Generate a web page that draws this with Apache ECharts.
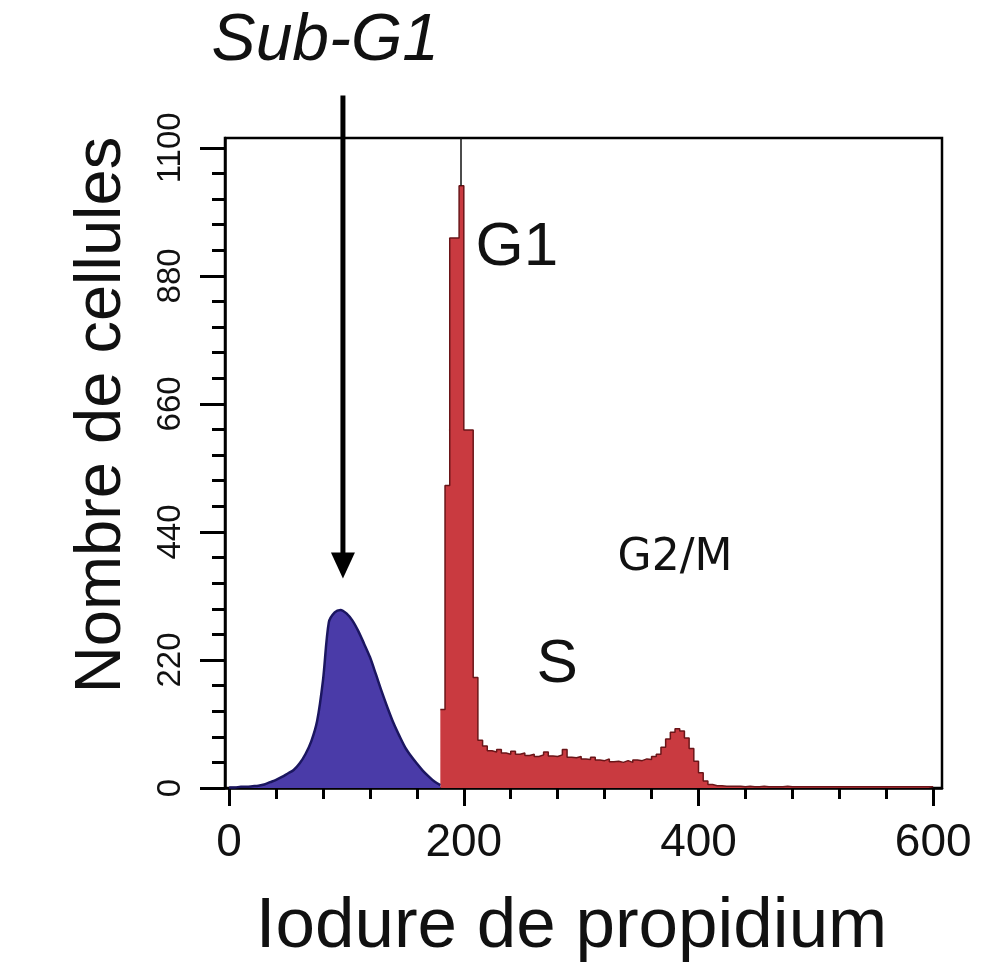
<!DOCTYPE html>
<html>
<head>
<meta charset="utf-8">
<script src="https://cdn.jsdelivr.net/npm/echarts@6/dist/echarts.min.js"></script>
<style>
  html, body { margin: 0; background: #fff; }
  #chart { width: 987px; height: 965px; }
</style>
</head>
<body>
<div id="chart"></div>
<script>
// Sub-G1 population (blue), one value every 5 units of PI
const subG1Start = 0;
const subG1Step = 5;
const subG1Counts = [1, 1, 2, 2, 3, 4, 6, 10, 14, 19, 25, 31, 42, 58, 80, 115, 185, 285, 302, 306,
  300, 288, 270, 248, 225, 196, 166, 138, 112, 90, 70, 55, 42, 30, 20, 11, 5];

// G1 / S / G2-M histogram (red), bins 4 units wide
const cycleStart = 180;
const cycleBin = 4;
const cycleCounts = [135, 520, 945, 945, 1035, 615, 615, 190, 82, 72, 64, 62, 66, 60, 58, 63, 58, 60,
  56, 58, 54, 57, 62, 55, 54, 57, 66, 53, 52, 54, 50, 49, 53, 48, 47, 50, 45, 46, 44, 47, 44, 48, 47,
  50, 49, 54, 58, 70, 84, 96, 102, 98, 86, 68, 46, 26, 12, 6,
  4, 4, 3, 3, 3, 3, 2, 3, 2, 2, 3, 2, 2, 2, 2, 3, 2, 2, 2, 2, 2, 2, 2, 2, 2, 2, 2, 2, 2, 2, 2, 2,
  2, 2, 2, 2, 2, 2, 2, 2, 2, 2, 2, 2, 2, 2, 2];

// thin spike above the G1 peak
const g1SpikeX = 197;
const g1SpikeFrom = 1035;
const g1SpikeTo = 1117;

// axes
const xMajor = [0, 200, 400, 600];
const xMinor = [0, 40, 80, 120, 160, 200, 240, 280, 320, 360, 400, 440, 480, 520, 560, 600];
const yMajor = [0, 220, 440, 660, 880, 1100];
const yMinor = [0, 44, 88, 132, 176, 220, 264, 308, 352, 396, 440, 484, 528, 572, 616, 660, 704,
  748, 792, 836, 880, 924, 968, 1012, 1056, 1100];

const FONT = '"Liberation Sans", Arial, sans-serif';

const subG1Data = subG1Counts.map((v, i) => [subG1Start + i * subG1Step, v]);
const cycleData = cycleCounts.map((v, i) => [cycleStart + i * cycleBin, v]);
cycleData.push([cycleStart + cycleCounts.length * cycleBin, cycleCounts[cycleCounts.length - 1]]);

const chart = echarts.init(document.getElementById('chart'));

const xBase = {
  type: 'value', min: -3.5, max: 607.5, position: 'bottom',
  splitLine: { show: false }
};
const yBase = {
  type: 'value', min: 0, max: 1117, position: 'left',
  splitLine: { show: false }
};

chart.setOption({
  animation: false,
  backgroundColor: '#fff',
  grid: {
    left: 225, right: 45, top: 138, bottom: 177,
    show: true, borderColor: '#000', borderWidth: 2.5,
    outerBoundsMode: 'none'
  },
  xAxis: [
    Object.assign({}, xBase, {
      axisLine: { show: true, onZero: false, lineStyle: { color: '#000', width: 2.5 } },
      axisTick: { show: true, customValues: xMajor, length: 18, lineStyle: { color: '#000', width: 3 } },
      axisLabel: { customValues: xMajor, fontSize: 46, fontFamily: FONT, color: '#111', margin: 32 },
      name: 'Iodure de propidium',
      nameLocation: 'middle',
      nameGap: 104,
      nameTextStyle: { fontSize: 71, fontFamily: FONT, color: '#111', padding: [0, 24, 0, 0] }
    }),
    Object.assign({}, xBase, {
      axisLine: { show: false, onZero: false },
      axisTick: { show: true, customValues: xMinor, length: 11, lineStyle: { color: '#000', width: 3 } },
      axisLabel: { show: false }
    })
  ],
  yAxis: [
    Object.assign({}, yBase, {
      axisLine: { show: true, onZero: false, lineStyle: { color: '#000', width: 2.5 } },
      axisTick: { show: true, customValues: yMajor, length: 25, lineStyle: { color: '#000', width: 3 } },
      axisLabel: {
        customValues: yMajor, rotate: 90, fontSize: 33, fontFamily: FONT, color: '#111', margin: 38,
        formatter: v => String(v)
      },
      name: 'Nombre de cellules',
      nameLocation: 'middle',
      nameGap: 90,
      nameTextStyle: { fontSize: 65, fontFamily: FONT, color: '#111', padding: [0, 0, 0, 96] }
    }),
    Object.assign({}, yBase, {
      axisLine: { show: false, onZero: false },
      axisTick: { show: true, customValues: yMinor, length: 13, lineStyle: { color: '#000', width: 3 } },
      axisLabel: { show: false }
    })
  ],
  series: [
    {
      name: 'Sub-G1',
      type: 'line',
      smooth: 0.3,
      symbol: 'none',
      data: subG1Data,
      lineStyle: { color: '#1b1660', width: 2.5 },
      areaStyle: { color: '#4a3ba8', opacity: 1 },
      z: 3
    },
    {
      name: 'Cycle',
      type: 'line',
      step: 'end',
      symbol: 'none',
      data: cycleData,
      lineStyle: { color: '#6a1518', width: 1.5 },
      areaStyle: { color: '#c93a40', opacity: 1 },
      z: 2,
      markLine: {
        silent: true,
        symbol: 'none',
        label: { show: false },
        lineStyle: { color: '#111', width: 1.5, type: 'solid' },
        data: [[{ coord: [g1SpikeX, g1SpikeFrom] }, { coord: [g1SpikeX, g1SpikeTo] }]]
      }
    }
  ]
});

// annotations placed in data units
const toPx = (x, y) => chart.convertToPixel({ gridIndex: 0 }, [x, y]);
const labels = [
  { text: 'Sub-G1', at: [82, 1282], font: 'italic 66px ' + FONT, align: 'center' },
  { text: 'G1', at: [210, 928], font: '62px ' + FONT, align: 'left' },
  { text: 'S', at: [279.5, 211], font: '62px ' + FONT, align: 'center' },
  { text: 'G2/M', at: [380, 395], font: '44px "DejaVu Sans", sans-serif', align: 'center' }
];
const arrowX = 97, arrowTop = 1190, arrowTip = 360;
const arrowStart = toPx(arrowX, arrowTop), arrowEnd = toPx(arrowX, arrowTip);

const graphics = labels.map(l => {
  const p = toPx(l.at[0], l.at[1]);
  return {
    type: 'text', x: p[0], y: p[1], z: 10,
    style: { text: l.text, font: l.font, fill: '#111', align: l.align, verticalAlign: 'middle' }
  };
});
graphics.push({
  type: 'line', z: 10,
  shape: { x1: arrowStart[0], y1: arrowStart[1], x2: arrowEnd[0], y2: arrowEnd[1] - 20 },
  style: { stroke: '#000', lineWidth: 5 }
});
graphics.push({
  type: 'polygon', z: 10,
  shape: { points: [[arrowEnd[0] - 12, arrowEnd[1] - 26], [arrowEnd[0] + 12, arrowEnd[1] - 26], [arrowEnd[0], arrowEnd[1]]] },
  style: { fill: '#000' }
});
chart.setOption({ graphic: graphics });
</script>
</body>
</html>
